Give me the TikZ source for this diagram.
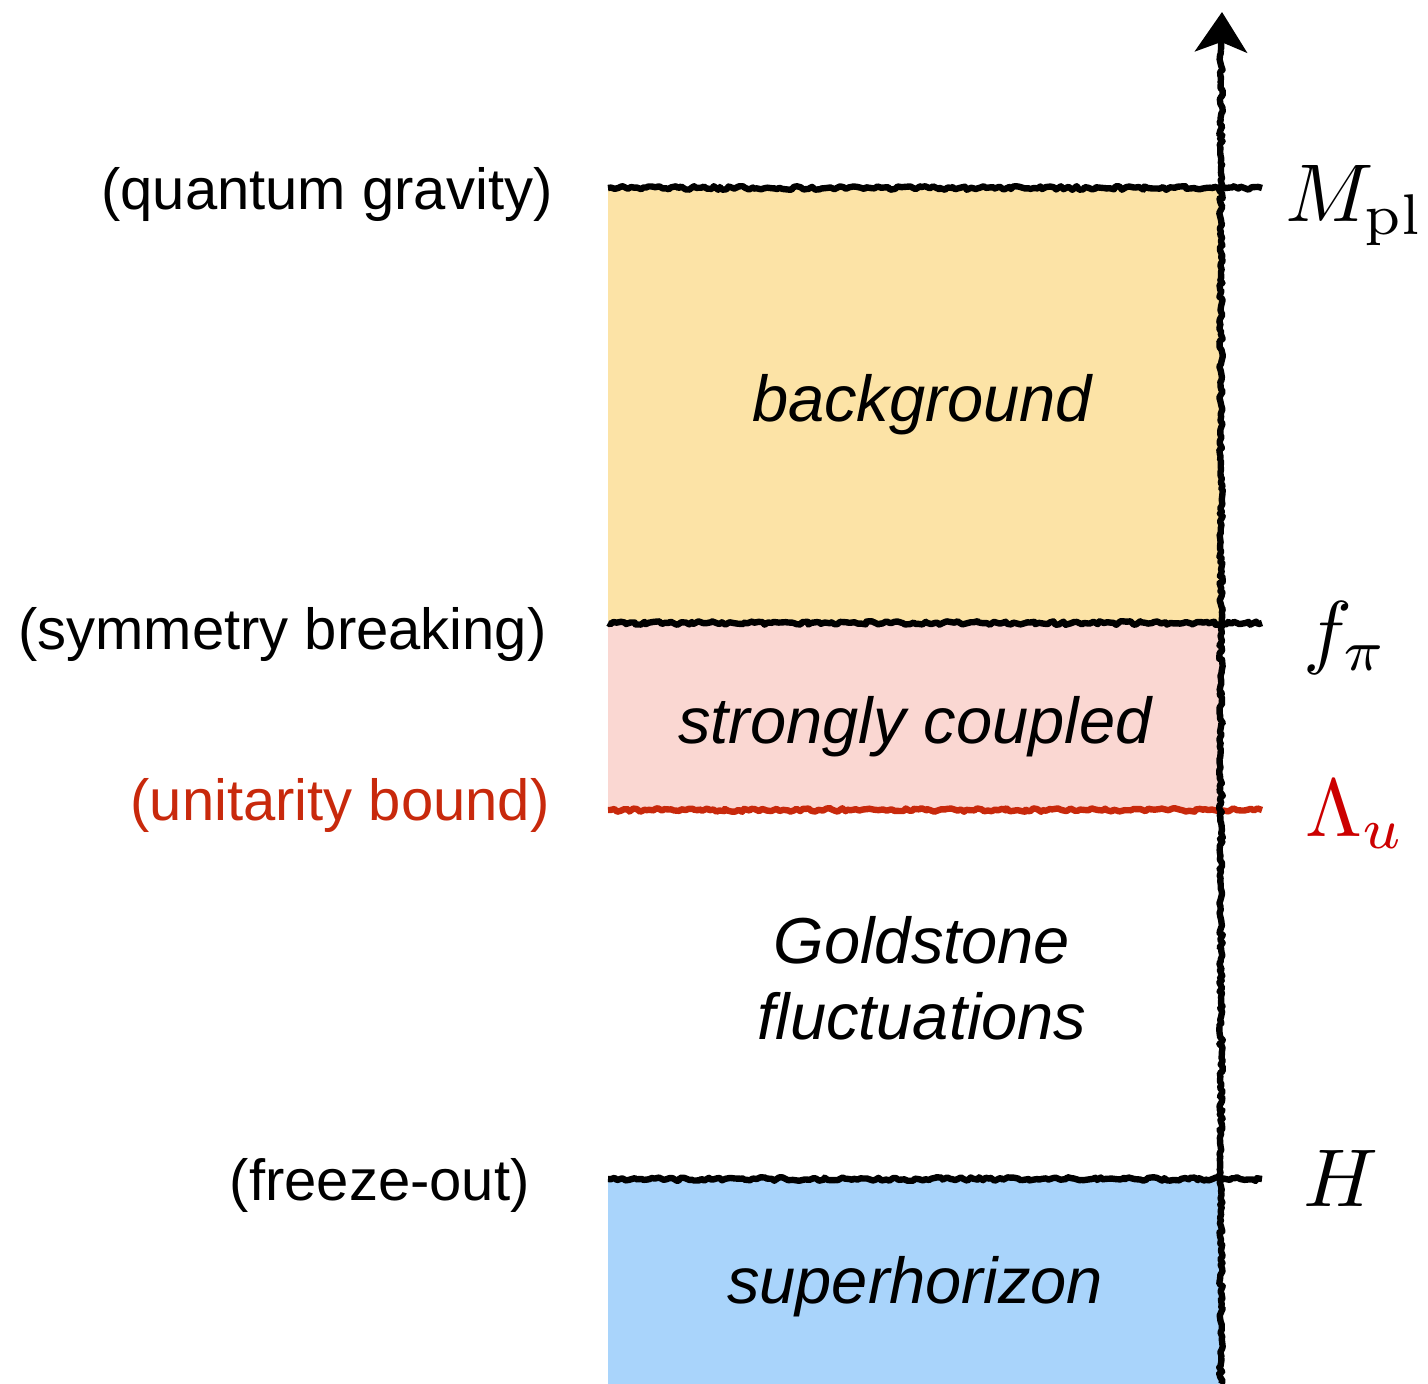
\documentclass[tikz,border=0pt]{standalone}
\usepackage{fontspec}
\newfontfamily\labfont{Liberation Sans}
\usetikzlibrary{decorations.pathmorphing,arrows.meta}
\definecolor{bgyellow}{HTML}{FCE3A6}
\definecolor{scpink}{HTML}{FAD7D2}
\definecolor{shblue}{HTML}{A9D4FB}
\definecolor{ured}{HTML}{C8290C}
\definecolor{mred}{HTML}{CC0000}
\newcommand{\bigmath}[1]{\scalebox{4.1}{$#1$}}
\tikzset{
  roughline/.style={line width=3.2pt, line join=round, line cap=butt, decorate,
    decoration={random steps, segment length=1.6pt, amplitude=0.9pt}},
  leftlab/.style={anchor=base east, inner sep=0pt, font=\labfont\fontsize{29}{34}\selectfont},
  regionlab/.style={anchor=base, inner sep=0pt, font=\labfont\itshape\fontsize{32.5}{38}\selectfont},
  scalelab/.style={anchor=base west, inner sep=0pt},
}
\begin{document}
\begin{tikzpicture}[x=0.5pt,y=-0.5pt]
\pgfmathsetseed{7}
\useasboundingbox (0,0) rectangle (1428,1384);
% coordinates
\coordinate (axbot) at (1221,1384);
\coordinate (axtop) at (1221,50);
\coordinate (tip) at (1222,12);
\coordinate (mpL) at (608,188);  \coordinate (mpR) at (1262,188);
\coordinate (fpL) at (608,623);  \coordinate (fpR) at (1262,623);
\coordinate (luL) at (608,810);  \coordinate (luR) at (1262,810);
\coordinate (hL) at (608,1179);  \coordinate (hR) at (1262,1179);
% regions
\fill[bgyellow] (608,190) rectangle (1221,621);
\fill[scpink] (608,624) rectangle (1221,809);
\fill[shblue] (608,1180) rectangle (1221,1384);
% scale lines
\draw[roughline] (mpL) -- (mpR);
\draw[roughline] (fpL) -- (fpR);
\draw[roughline, ured] (luL) -- (luR);
\draw[roughline] (hL) -- (hR);
% axis
\draw[roughline] (axbot) -- (axtop);
\draw[line width=3.2pt, -{Stealth[length=20pt, width=26pt, inset=5pt]}] (axtop) -- (tip);
% region labels
\node[regionlab] (bg) at (922,422) {background};
\node[regionlab] (sc) at (915,743) {strongly coupled};
\node[regionlab] (gs1) at (922,963) {Goldstone};
\node[regionlab] (gs2) at (922,1039) {fluctuations};
\node[regionlab] (sh) at (915,1303) {superhorizon};
% left labels
\node[leftlab] (qg) at (553,210) {(quantum gravity)};
\node[leftlab] (sb) at (547,649) {(symmetry breaking)};
\node[leftlab, text=ured] (ub) at (550,820) {(unitarity bound)};
\node[leftlab] (fo) at (530,1200) {(freeze-out)};
% scale labels
\node[scalelab] (Mpl) at (1285,222) {\bigmath{M_{\mathrm{pl}}}};
\node[scalelab] (fpi) at (1303,658) {\bigmath{f_\pi}};
\node[scalelab, text=mred] (Lu) at (1305,836) {\bigmath{\Lambda_u}};
\node[scalelab] (Hh) at (1303,1206) {\bigmath{H}};
\end{tikzpicture}
\end{document}
